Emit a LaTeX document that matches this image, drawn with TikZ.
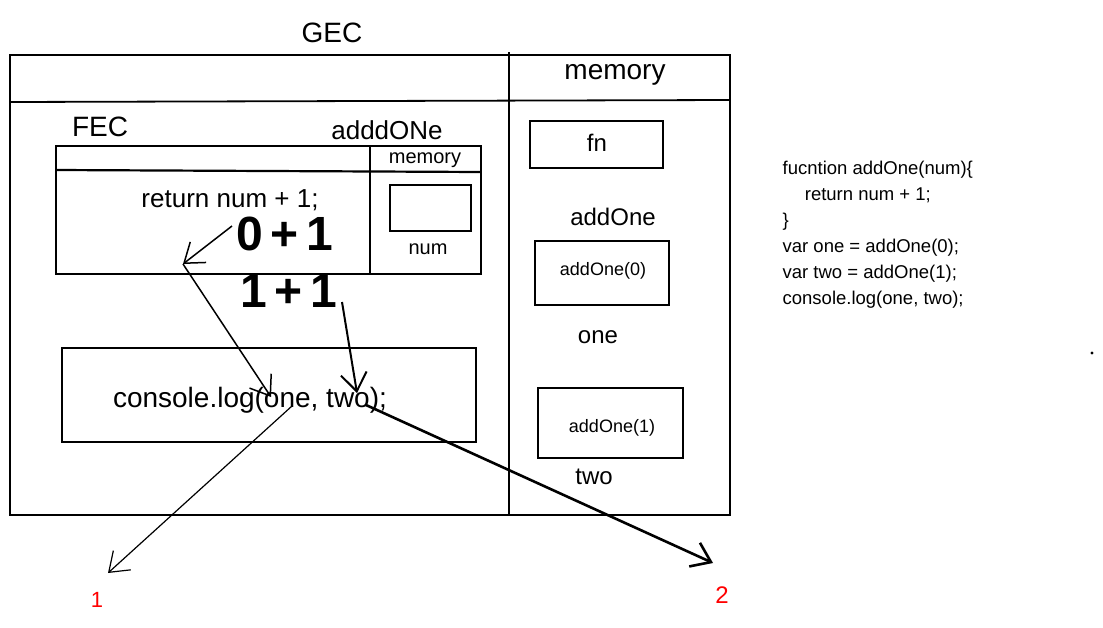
\documentclass[tikz,border=0pt]{standalone}
\usepackage{fontspec}
\setmainfont{Liberation Sans}
\usetikzlibrary{arrows.meta}

\tikzset{
  lbl/.style={anchor=center,inner sep=1pt},
  big/.style={anchor=center,inner sep=0pt,font=\fontsize{48}{52}\selectfont\bfseries},
  barb/.style={-{Straight Barb[length=18pt,width=26pt]}},
}

\begin{document}
\begin{tikzpicture}[x=1pt,y=-1pt,line width=1.3pt]
\path[use as bounding box] (0,0) rectangle (1103,627);
% global context frame
\draw (10,55) rectangle (730,515);
\draw (509,52) -- (509,515);
\draw[line width=1.8pt] (10,102) -- (730,100);
\node[lbl,font=\fontsize{28}{32}\selectfont] (gec) at (332,33) {GEC};
\node[lbl,font=\fontsize{28}{32}\selectfont] (gmem) at (615,75) {memory};
% function context
\node[lbl,font=\fontsize{28}{32}\selectfont] (fec) at (100,127) {FEC};
\node[lbl,font=\fontsize{26}{30}\selectfont] (fname) at (387,130) {adddONe};
\draw[line width=2.2pt] (56,146) rectangle (481,274);
\draw[line width=2.2pt] (56,170) -- (481,172);
\draw[line width=2.2pt] (370,146) -- (370,274);
\node[lbl,font=\fontsize{20}{24}\selectfont] (fmem) at (425,160) {memory};
\draw[line width=2pt] (390,185) rectangle (471,231);
\node[lbl,font=\fontsize{20}{24}\selectfont] (num) at (428,249) {num};
\node[lbl,font=\fontsize{26}{30}\selectfont] (ret) at (230,200) {return num + 1;};
\node[big] (sum0) at (285,234) {0\,+\,1};
\node[big] (sum1) at (289,291) {1\,+\,1};
% console call
\draw[line width=2pt] (62,348) rectangle (476,442);
\node[lbl,font=\fontsize{28}{32}\selectfont] (log) at (250,400) {console.log(one, two);};
% memory column
\draw[line width=2pt] (530,121) rectangle (663,168);
\node[lbl,font=\fontsize{24}{28}\selectfont] (fn) at (597,143) {fn};
\node[lbl,font=\fontsize{24}{28}\selectfont] (addone) at (613,217) {addOne};
\draw[line width=2pt] (535,241) rectangle (669,305);
\node[lbl,font=\fontsize{18}{22}\selectfont] (call0) at (603,271) {addOne(0)};
\node[lbl,font=\fontsize{24}{28}\selectfont] (one) at (598,337) {one};
\draw[line width=2pt] (538,388) rectangle (683,458);
\node[lbl,font=\fontsize{18}{22}\selectfont] (call1) at (612,428) {addOne(1)};
\node[lbl,font=\fontsize{24}{28}\selectfont] (two) at (594,477) {two};
% source code
\node[anchor=north west,inner sep=0pt,align=left,font=\fontsize{18.5}{26}\selectfont] (code) at (782,160)
  {fucntion addOne(num)\{\\\hspace*{1.2em}return num + 1;\\\}\\var one = addOne(0);\\var two = addOne(1);\\console.log(one, two);};
\fill (1092,353) circle (1.6);
% results
\node[lbl,text=red,font=\fontsize{22}{26}\selectfont] (res1) at (97,600) {1};
\node[lbl,text=red,font=\fontsize{24}{28}\selectfont] (res2) at (722,595) {2};
% arrows
\coordinate (s0) at (232,226);
\coordinate (bend) at (183,264);
\coordinate (argone) at (271,397);
\coordinate (s1) at (342,302);
\coordinate (argtwo) at (357,393);
\coordinate (outone) at (292,406);
\coordinate (outtwo) at (366,405);
\coordinate (tipone) at (108,573);
\coordinate (tiptwo) at (713,563);
\draw[barb,line width=1.5pt] (s0) -- (bend);
\draw[barb,line width=1.5pt] (bend) -- (argone);
\draw[barb,line width=2pt] (s1) -- (argtwo);
\draw[barb,line width=1.2pt] (outone) -- (tipone);
\draw[barb,line width=2.6pt] (outtwo) -- (tiptwo);
\end{tikzpicture}
\end{document}
